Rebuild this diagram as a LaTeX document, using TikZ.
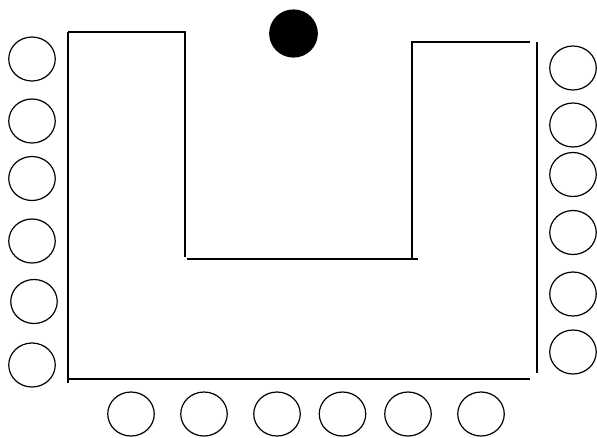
\documentclass[tikz,border=0pt]{standalone}
\usetikzlibrary{shapes.geometric}
\begin{document}
\begin{tikzpicture}[x=1pt,y=-1pt,
  seat/.style={ellipse,draw=black,line width=1.2pt,minimum width=46.5pt,minimum height=44pt,inner sep=0pt},
  wall/.style={draw=black,line width=1.4pt}]
\useasboundingbox (0,0) rectangle (597,437);
% U-shaped table
\draw[wall] (68,32) -- (68,383);
\draw[wall] (68,32) -- (185,32) -- (185,257);
\draw[wall] (187,259) -- (418,259);
\draw[wall] (412,258) -- (412,42) -- (530,42);
\draw[wall] (537,42) -- (537,373);
\draw[wall] (68,379) -- (530,379);
% head (black dot)
\node[seat,fill=black,minimum width=47.5pt,minimum height=47pt] (head) at (293.5,33.5) {};
% left seats
\node[seat] (l1) at (32,59) {};
\node[seat] (l2) at (32,121) {};
\node[seat] (l3) at (32,178.5) {};
\node[seat] (l4) at (32,241) {};
\node[seat] (l5) at (34,301.5) {};
\node[seat] (l6) at (32,365) {};
% right seats
\node[seat] (r1) at (573,68) {};
\node[seat] (r2) at (573,125) {};
\node[seat] (r3) at (573,174.5) {};
\node[seat] (r4) at (573,232.5) {};
\node[seat] (r5) at (573,294) {};
\node[seat] (r6) at (573,352) {};
% bottom seats
\node[seat] (b1) at (131,414) {};
\node[seat] (b2) at (204,414) {};
\node[seat] (b3) at (277,414) {};
\node[seat] (b4) at (342.5,414) {};
\node[seat] (b5) at (408,414) {};
\node[seat] (b6) at (481,414) {};
\end{tikzpicture}
\end{document}
